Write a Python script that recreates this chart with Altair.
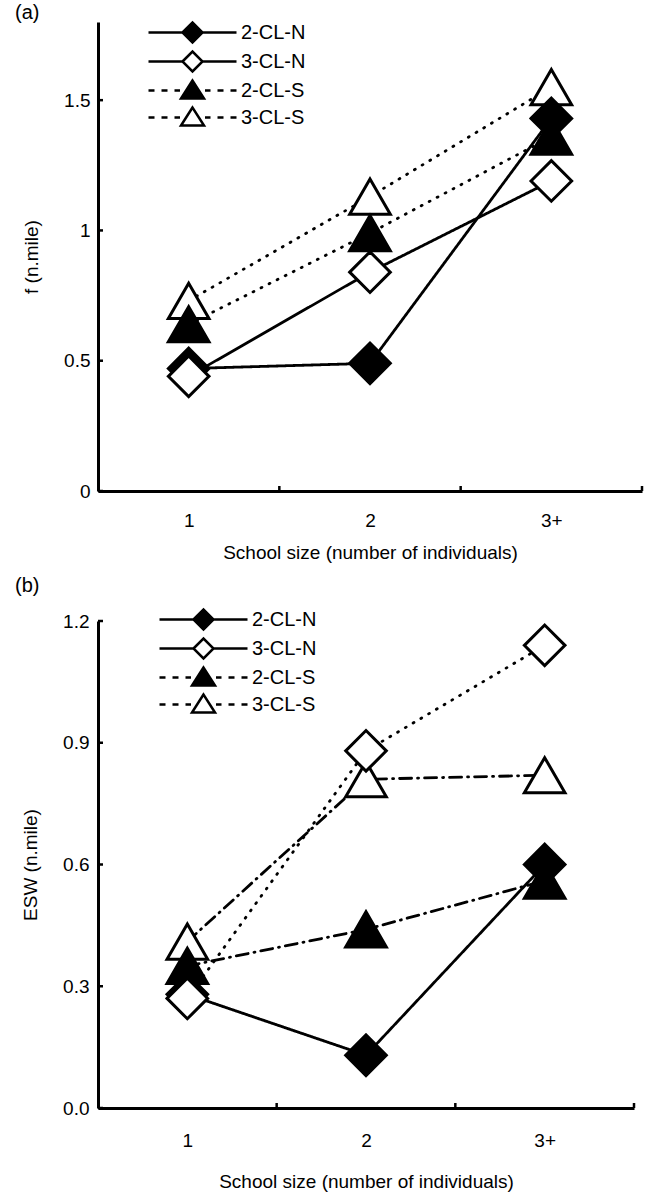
import altair as alt
import pandas as pd

# ---------------- data ----------------
categories = ["1", "2", "3+"]
series = ["2-CL-N", "3-CL-N", "2-CL-S", "3-CL-S"]

# panel (a): f (n.mile)
f_2cln = [0.47, 0.49, 1.43]
f_3cln = [0.44, 0.84, 1.19]
f_2cls = [0.64, 0.99, 1.36]
f_3cls = [0.73, 1.13, 1.55]

# panel (b): ESW (n.mile)
esw_2cln = [0.28, 0.13, 0.60]
esw_3cln = [0.27, 0.88, 1.14]
esw_2cls = [0.35, 0.44, 0.56]
esw_3cls = [0.41, 0.81, 0.82]

f_ticks = [0, 0.5, 1, 1.5]
esw_ticks = [0.0, 0.3, 0.6, 0.9, 1.2]

# drawing order of markers (later on top)
draw_order = ["3-CL-S", "2-CL-S", "2-CL-N", "3-CL-N"]

FONT = "Liberation Sans"


def make_df(vals):
    rows = []
    for s, v in zip(series, vals):
        for i, y in enumerate(v):
            rows.append({"series": s, "pos": i + 1, "value": y,
                         "ord": draw_order.index(s)})
    return pd.DataFrame(rows).sort_values(["ord", "pos"])


df_a = make_df([f_2cln, f_3cln, f_2cls, f_3cls])
df_b = make_df([esw_2cln, esw_3cln, esw_2cls, esw_3cls])

label_expr = " : ".join(
    [f"datum.value == {i + 1} ? '{c}'" for i, c in enumerate(categories[:-1])]
    + [f"'{categories[-1]}'"]
)
bounds = [i + 1.5 for i in range(len(categories))]
XDOM = [0.5, len(categories) + 0.5]

# legend symbols: line + marker drawn as one custom path
solid = "M-4.4,0H-1.05M1.05,0H4.4"
dashed = ("M-4.4,0H-3.8M-3.1,0H-2.5M-1.8,0H-1.25"
          "M1.25,0H1.8M2.5,0H3.1M3.8,0H4.4")
diamond_p = "M-1,0L0,-1L1,0L0,1Z"
tri_p = "M0,-1L-1.15,0.8L1.15,0.8Z"
legend_shapes = [solid + diamond_p, solid + diamond_p,
                 dashed + tri_p, dashed + tri_p]
fills = ["black", "white", "black", "white"]
fill_signal = " : ".join(
    [f"datum.value == '{s}' ? '{c}'" for s, c in zip(series, fills)] + ["'black'"]
)


def xenc(field, axis=None):
    sc = alt.Scale(domain=XDOM, nice=False, zero=False)
    if axis is None:
        return alt.X(field, scale=sc)
    return alt.X(field, scale=sc, axis=axis)


def panel(df, ymax, yticks, ytitle, fmt, width, height, dashes, tag,
          tag_offset, leg_x, leg_y, xlabpad, xtitlepad, ylabpad, ytitlepad):
    xaxis = alt.Axis(values=list(range(1, len(categories) + 1)),
                     labelExpr=label_expr,
                     title="School size (number of individuals)",
                     ticks=False, grid=False, labelPadding=xlabpad,
                     titlePadding=xtitlepad)
    yscale = alt.Scale(domain=[0, ymax], nice=False, zero=True)
    y = alt.Y("value:Q", scale=yscale,
              axis=alt.Axis(values=yticks, format=fmt, title=ytitle,
                            ticks=False, grid=False, labelPadding=ylabpad,
                            titlePadding=ytitlepad))
    fill_enc = alt.Fill("series:N", scale=alt.Scale(domain=series, range=fills),
                        legend=None)

    lines = alt.Chart(df).mark_line(color="black", strokeWidth=2.8,
                                    strokeCap="round").encode(
        x=xenc("pos:Q", xaxis), y=y,
        detail="series:N",
        order="pos:Q",
        strokeDash=alt.StrokeDash("series:N",
                                  scale=alt.Scale(domain=series, range=dashes),
                                  legend=None),
    )
    points = alt.Chart(df).mark_point(opacity=1, stroke="black",
                                      strokeWidth=3).encode(
        x=xenc("pos:Q"), y=alt.Y("value:Q", scale=yscale),
        shape=alt.Shape("series:N", scale=alt.Scale(
            domain=series,
            range=["diamond", "diamond", "triangle-up", "triangle-up"]),
            legend=None),
        fill=fill_enc,
        size=alt.Size("series:N", scale=alt.Scale(
            domain=series, range=[1650, 1650, 1450, 1450]), legend=None),
        order="ord:Q",
    )
    leg = alt.Chart(df).mark_point(opacity=1, stroke="black",
                                   strokeWidth=2.5, size=400).encode(
        x=xenc("pos:Q"), y=alt.Y("value:Q", scale=yscale),
        fill=fill_enc,
        shape=alt.Shape(
            "series:N",
            scale=alt.Scale(domain=series, range=legend_shapes),
            legend=alt.Legend(
                title=None, orient="none", legendX=leg_x, legendY=leg_y,
                symbolSize=400, symbolOffset=31, labelOffset=37,
                labelFontSize=20, labelFont=FONT, labelColor="black",
                rowPadding=-2, padding=0,
                symbolFillColor={"expr": fill_signal},
                symbolStrokeColor="black", symbolStrokeWidth=2.5,
                symbolOpacity=1,
            )),
    ).transform_filter("datum.pos > 100")

    yt = pd.DataFrame({"t": yticks})
    ytick_marks = alt.Chart(yt).mark_rule(color="black", strokeWidth=2.5).encode(
        y=alt.Y("t:Q", scale=yscale), x=alt.value(0), x2=alt.value(5))
    xt = pd.DataFrame({"b": bounds})
    xtick_marks = alt.Chart(xt).mark_rule(color="black", strokeWidth=2.5).encode(
        x=xenc("b:Q"), y=alt.value(height), y2=alt.value(height - 5))

    return alt.layer(lines, ytick_marks, xtick_marks, points, leg).resolve_scale(
        shape="independent"
    ).properties(
        width=width, height=height,
        title=alt.TitleParams(tag, anchor="start", frame="group",
                              dx=-83, offset=tag_offset, fontSize=20,
                              fontWeight="normal", font=FONT, color="black"),
    )


pa = panel(df_a, 1.8, f_ticks, "f (n.mile)", "", 544, 469,
           [[1, 0], [1, 0], [1, 8], [1, 8]], "(a)", -2, 52, -1, 20, 13, 8, 22)
pb = panel(df_b, 1.2, esw_ticks, "ESW (n.mile)", ".1f", 536, 487,
           [[1, 0], [1, 8], [12, 6, 1, 6], [12, 6, 1, 6]], "(b)", 12, 63, -13,
           23, 22, 9, 22)

chart = alt.concat(pa, pb, columns=1, spacing=14, align="none").resolve_scale(
    strokeDash="independent", shape="independent", fill="independent",
    size="independent"
).resolve_legend(shape="independent").properties(
    padding={"left": 15, "top": 3, "right": 2, "bottom": 2}
).configure_view(stroke=None).configure_axis(
    domainColor="black", domainWidth=3, labelFont=FONT, titleFont=FONT,
    labelFontSize=19, titleFontSize=19, labelColor="black",
    titleColor="black", titleFontWeight="normal",
)

chart.save("out.html", embed_options={"renderer": "svg", "actions": False})
